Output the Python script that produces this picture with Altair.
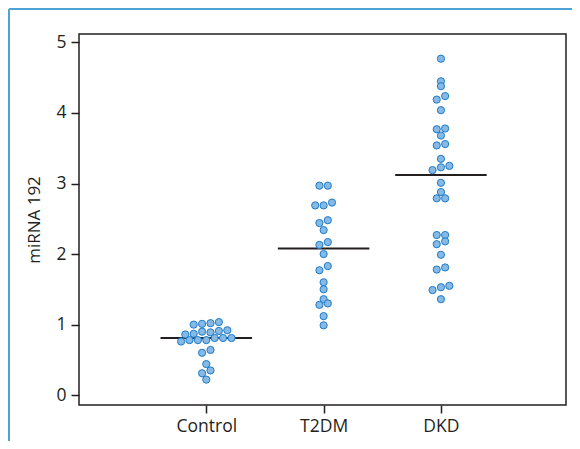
import altair as alt
import pandas as pd

groups = ["Control", "T2DM", "DKD"]

control_values = [1.00, 1.01, 1.02, 1.035,
                  0.86, 0.87, 0.90, 0.89, 0.91, 0.92,
                  0.76, 0.78, 0.78, 0.78, 0.81, 0.81, 0.81,
                  0.60, 0.64,
                  0.44, 0.35, 0.31, 0.22]
control_slots = [-1.5, -0.5, 0.5, 1.5,
                 -2.5, -1.5, -0.5, 0.5, 1.5, 2.5,
                 -3, -2, -1, 0, 1, 2, 3,
                 -0.5, 0.5,
                 0, 0.5, -0.5, 0]

t2dm_values = [2.97, 2.97, 2.69, 2.69, 2.73, 2.44, 2.48, 2.34, 2.13, 2.17, 2.00,
               1.77, 1.83, 1.60, 1.50, 1.36, 1.28, 1.30, 1.12, 0.99]
t2dm_slots = [-0.5, 0.5, -1, 0, 1, -0.5, 0.5, 0, -0.5, 0.5, 0,
              -0.5, 0.5, 0, 0, 0, -0.5, 0.5, 0, 0]

dkd_values = [4.77, 4.45, 4.38, 4.19, 4.24, 4.04, 3.77, 3.78, 3.68, 3.54, 3.56,
              3.35, 3.19, 3.23, 3.25, 3.01, 2.88, 2.79, 2.79, 2.27, 2.27,
              2.14, 2.18, 1.99, 1.78, 1.81, 1.49, 1.53, 1.55, 1.36]
dkd_slots = [0, 0, 0, -0.5, 0.5, 0, -0.5, 0.5, 0, -0.5, 0.5,
             0, -1, 0, 1, 0, 0, -0.5, 0.5, -0.5, 0.5,
             -0.5, 0.5, 0, -0.5, 0.5, -1, 0, 1, 0]

medians = [0.81, 2.08, 3.12]

SLOT = 0.0716      # horizontal swarm spacing (x units)
HALF = 0.39        # half-length of median line (x units)

rows = []
for gi, (vals, slots) in enumerate([(control_values, control_slots),
                                    (t2dm_values, t2dm_slots),
                                    (dkd_values, dkd_slots)]):
    for v, s in zip(vals, slots):
        rows.append({"group": groups[gi], "x": gi + 1 + s * SLOT, "value": v})
points = pd.DataFrame(rows)

med = pd.DataFrame({
    "group": groups,
    "x": [i + 1 - HALF for i in range(len(groups))],
    "x2": [i + 1 + HALF for i in range(len(groups))],
    "value": medians,
})

W, H = 487, 371
FONT = "Open Sans"
TXT = "#231f20"

label_expr = "[" + ",".join("'%s'" % g for g in groups) + "][round(datum.value) - 1]"

xscale = alt.Scale(domain=[-0.085, 4.066], nice=False, zero=False)
yscale = alt.Scale(domain=[-0.14, 5.12], nice=False, zero=False)

xaxis = alt.Axis(values=[1, 2, 3], labelExpr=label_expr, title=None, grid=False,
                 labelPadding=4)
yaxis = alt.Axis(values=[0, 1, 2, 3, 4, 5], format="d", title="miRNA 192", grid=False,
                 labelPadding=5, titlePadding=12)

pts = alt.Chart(points).mark_circle(
    size=52, color="#86b9e5", stroke="#1f7bc6", strokeWidth=1, opacity=1
).encode(
    x=alt.X("x:Q", scale=xscale, axis=xaxis),
    y=alt.Y("value:Q", scale=yscale, axis=yaxis),
)

med_rules = alt.Chart(med).mark_rule(color="#231f20", strokeWidth=2).encode(
    x=alt.X("x:Q", scale=xscale),
    x2="x2:Q",
    y=alt.Y("value:Q", scale=yscale),
)

dummy = pd.DataFrame({"a": [0]})
frame_left = alt.Chart(dummy).mark_rule(color="#4ea2d6", strokeWidth=2).encode(
    x=alt.value(-70), y=alt.value(-25), y2=alt.value(H + 60)
)
frame_top = alt.Chart(dummy).mark_rule(color="#4ea2d6", strokeWidth=2).encode(
    x=alt.value(-70), x2=alt.value(W + 30), y=alt.value(-25)
)

chart = alt.layer(frame_left, frame_top, med_rules, pts).properties(
    width=W, height=H,
    padding={"left": 71, "top": 26, "right": 6, "bottom": 36},
    autosize=alt.AutoSizeParams(type="none"),
).configure_view(
    stroke="#231f20", strokeWidth=1.5
).configure_axis(
    labelFont=FONT, labelFontSize=17.5, labelColor=TXT,
    titleFont=FONT, titleFontSize=17, titleColor=TXT, titleFontWeight="normal",
    tickColor="#231f20", tickSize=8, tickWidth=1.5, domain=False,
)

chart.save("out.html", embed_options={"renderer": "svg", "actions": False})
